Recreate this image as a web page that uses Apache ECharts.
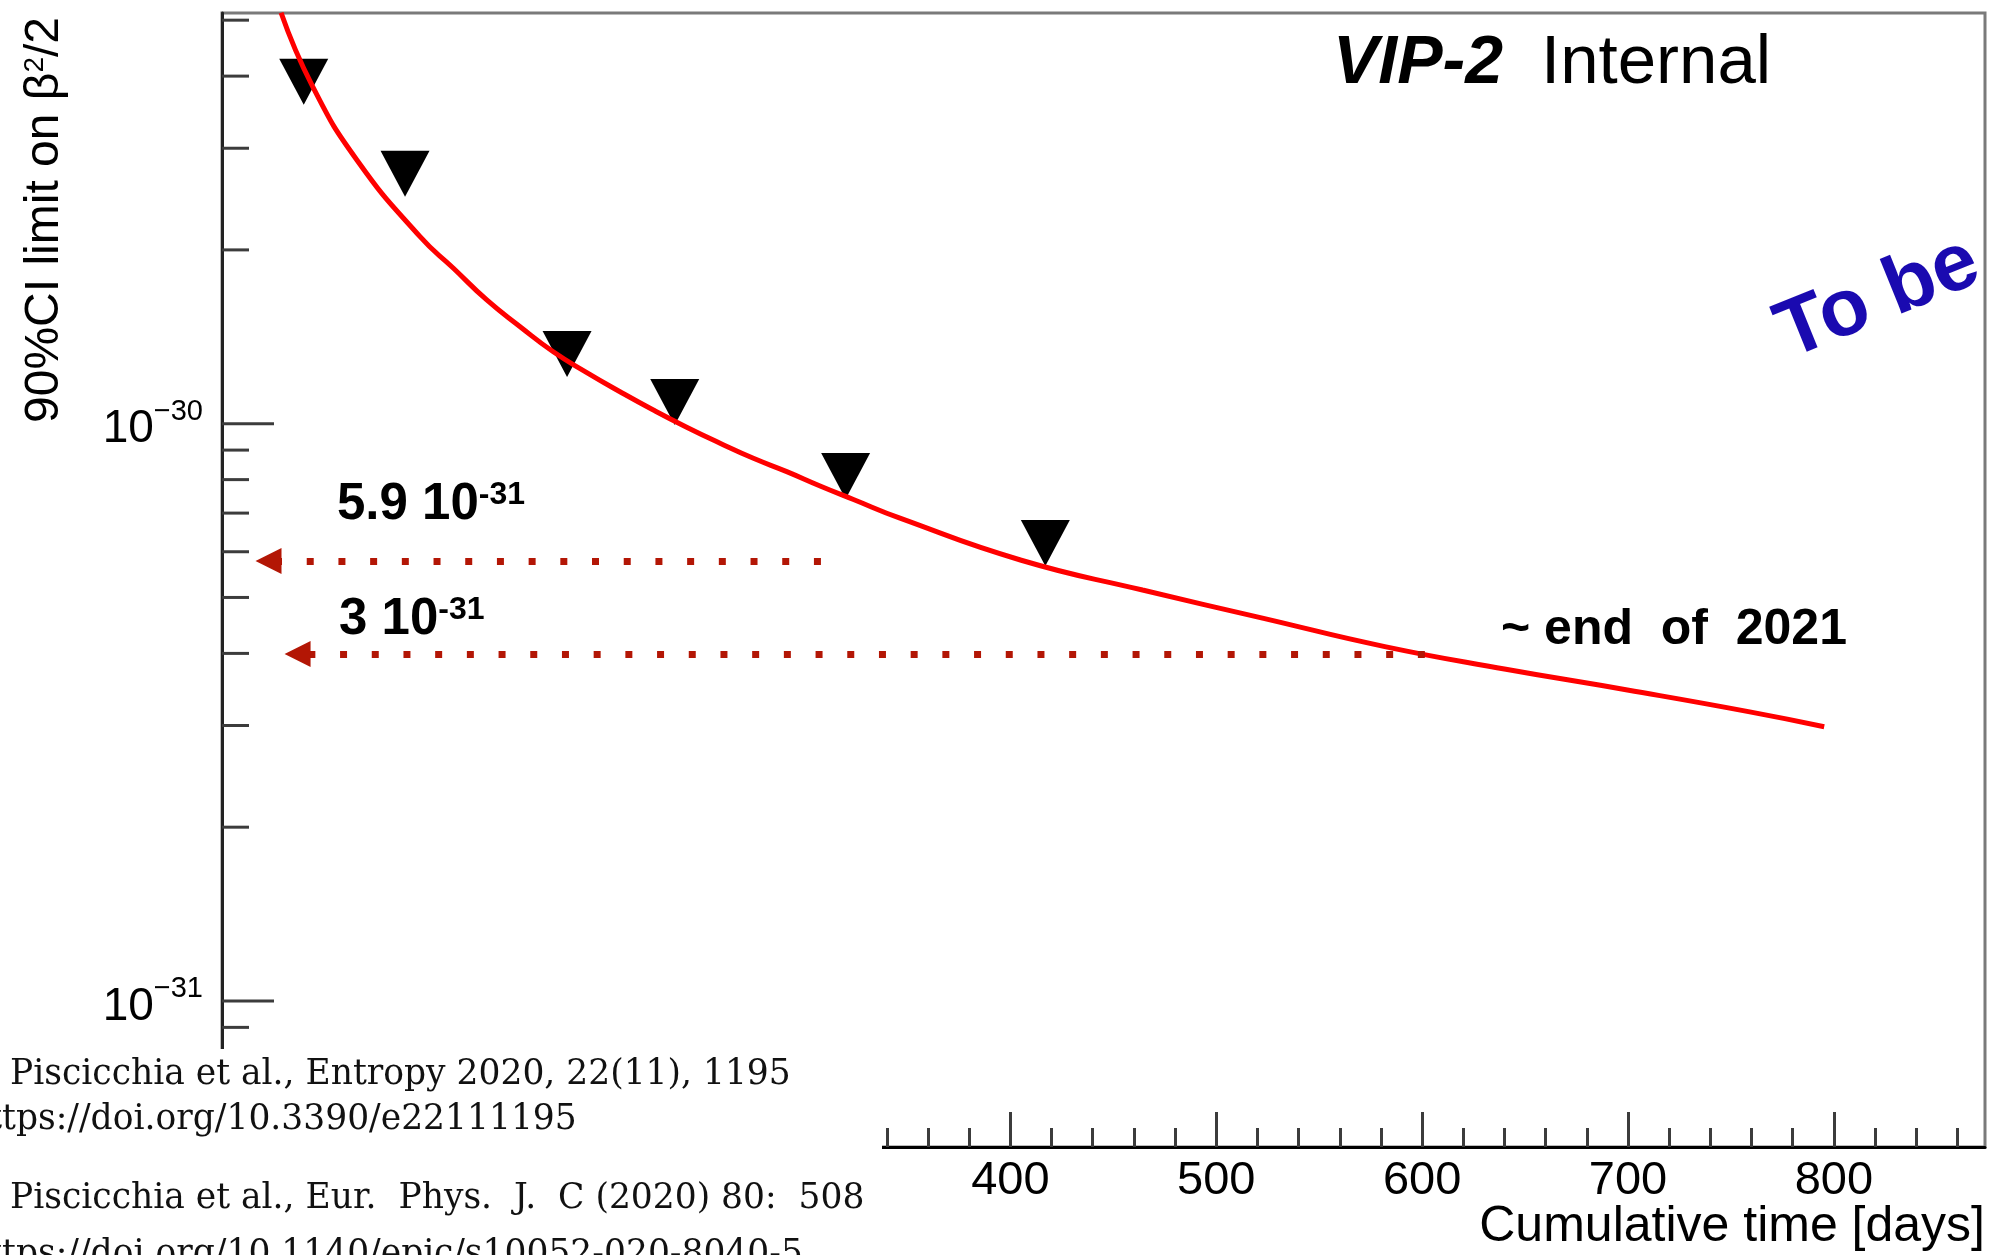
<!DOCTYPE html>
<html><head><meta charset="utf-8">
<script src="https://cdn.jsdelivr.net/npm/echarts@6/dist/echarts.min.js"></script>
<style>html,body{margin:0;padding:0;background:#fff}#c{width:1993px;height:1255px}</style>
</head><body><div id="c"></div>
<script>
// ---- data ----
const curveDays   = [45.8, 61.1, 82.7, 113.3, 129.5, 145.7, 161.9, 178.0, 194.3, 210.4, 226.6, 242.8, 259.0, 275.2, 291.4, 307.6, 323.8, 346.4, 405.3, 464.2, 523.0, 581.9, 640.7, 699.7, 758.5, 795.3];
const curveLimits = [5.15e-30, 3.84e-30, 2.86e-30, 2.108e-30, 1.859e-30, 1.638e-30, 1.472e-30, 1.332e-30, 1.226e-30, 1.136e-30, 1.056e-30, 9.86e-31, 9.25e-31, 8.71e-31, 8.26e-31, 7.80e-31, 7.39e-31, 6.86e-31, 5.80e-31, 5.15e-31, 4.60e-31, 4.11e-31, 3.755e-31, 3.457e-31, 3.171e-31, 2.986e-31];
const pointDays   = [56.8, 106.0, 184.7, 237.0, 320.0, 417.0];
const pointLimits = [3.91e-30, 2.71e-30, 1.32e-30, 1.09e-30, 8.12e-31, 6.21e-31];
const arrowLevels    = [5.78e-31, 3.99e-31];
const arrowTipDays   = [39.7, 53.8];
const arrowStartDays = [311.4, 603.8];
const arrowLabels = [['5.9 10', '-31'], ['3 10', '-31']];
const xTickLabels = [400, 500, 600, 700, 800];
const xMajorTicks = [100, 200, 300, 400, 500, 600, 700, 800];
const xMinorTicks = [20,40,60,80,120,140,160,180,220,240,260,280,320,340,360,380,420,440,460,480,520,540,560,580,620,640,660,680,720,740,760,780,820,840,860];
const yMajorTicks = [1e-31, 1e-30];
const yMinorTicks = [6e-32,7e-32,8e-32,9e-32,2e-31,3e-31,4e-31,5e-31,6e-31,7e-31,8e-31,9e-31,2e-30,3e-30,4e-30,5e-30];
const xRange = [17.1, 873.4];
const yRange = [5.585e-32, 5.145e-30];
const citations = [
  'Piscicchia et al., Entropy 2020, 22(11), 1195',
  'https://doi.org/10.3390/e22111195',
  'Piscicchia et al., Eur.  Phys.  J.  C (2020) 80:  508',
  'https://doi.org/10.1140/epjc/s10052-020-8040-5'
];

const SANS = 'Liberation Sans, Arial, Helvetica, sans-serif';
const SERIF = 'DejaVu Serif, serif';
const ARROW = '#b31605';
const TICK = '#3c3c3c';

const chart = echarts.init(document.getElementById('c'), null, {renderer: 'canvas'});

const dashOffsets = [25.2, 20.9];

function yTickSeries(values, len) {
  return {
    type: 'custom', xAxisIndex: 0, yAxisIndex: 0, z: 5, clip: false, silent: true,
    data: values.map(v => [xRange[0], v]),
    renderItem: function (params, api) {
      const p = api.coord([api.value(0), api.value(1)]);
      return {type: 'line', shape: {x1: p[0], y1: p[1], x2: p[0] + len, y2: p[1]},
              style: {stroke: TICK, lineWidth: 3}};
    }
  };
}

const option = {
  animation: false,
  backgroundColor: '#ffffff',
  grid: {left: 222, right: 8, top: 13, bottom: 108, containLabel: false, outerBoundsMode: 'none',
         show: true, borderColor: '#7a7a7a', borderWidth: 3, backgroundColor: 'transparent'},
  xAxis: [
    {type: 'value', min: xRange[0], max: xRange[1], position: 'bottom',
     axisLine: {show: true, onZero: false, lineStyle: {color: '#000', width: 3}},
     axisTick: {show: true, inside: true, length: 35, customValues: xMajorTicks, lineStyle: {color: TICK, width: 3}},
     axisLabel: {show: true, customValues: xTickLabels, margin: 11, fontSize: 47, fontFamily: SANS, color: '#000'},
     splitLine: {show: false}},
    {type: 'value', min: xRange[0], max: xRange[1], position: 'bottom',
     axisLine: {show: false},
     axisTick: {show: true, inside: true, length: 19, customValues: xMinorTicks, lineStyle: {color: TICK, width: 3}},
     axisLabel: {show: false}, splitLine: {show: false}}
  ],
  yAxis: [
    {type: 'log', logBase: 10, min: yRange[0], max: yRange[1], position: 'left',
     axisLine: {show: true, onZero: false, lineStyle: {color: '#222', width: 3}},
     axisTick: {show: false},
     axisLabel: {show: true, margin: 19, padding: [12, 0, 0, 0], showMinLabel: true, showMaxLabel: true, hideOverlap: false,
       formatter: function (v) {
         const e = Math.log10(v);
         const r = Math.round(e);
         if (Math.abs(e - r) > 1e-6 || yMajorTicks.every(t => Math.abs(Math.log10(t) - r) > 1e-6)) return '';
         return '{b|10}{s|\u2212' + Math.abs(r) + '}';
       },
       rich: {b: {fontSize: 46, lineHeight: 64, fontFamily: SANS, color: '#000'},
              s: {fontSize: 29, verticalAlign: 'top', fontFamily: SANS, color: '#000'}}},
     splitLine: {show: false}}
  ],
  series: [
    {type: 'scatter', name: 'limits', xAxisIndex: 0, yAxisIndex: 0, z: 2,
     data: pointDays.map((d, i) => [d, pointLimits[i]]),
     symbol: 'triangle', symbolRotate: 180, symbolSize: [49, 46],
     itemStyle: {color: '#000', opacity: 1}},
    {type: 'line', name: 'fit', xAxisIndex: 0, yAxisIndex: 0, z: 3,
     data: curveDays.map((d, i) => [d, curveLimits[i]]),
     smooth: 0.5, symbol: 'none', showSymbol: false, clip: true,
     lineStyle: {color: '#ff0000', width: 5}},
    {type: 'lines', name: 'arrows', coordinateSystem: 'cartesian2d', xAxisIndex: 0, yAxisIndex: 0, z: 4,
     symbol: ['triangle', 'none'], symbolSize: 26,
     data: arrowLevels.map((v, i) => ({
       coords: [[arrowTipDays[i], v], [arrowStartDays[i], v]],
       lineStyle: {color: ARROW, width: 7, type: [7, 24.7], dashOffset: dashOffsets[i], cap: 'butt'}
     })),
     lineStyle: {color: ARROW, width: 7, opacity: 1},
     itemStyle: {color: ARROW}},
    yTickSeries(yMajorTicks, 52),
    yTickSeries(yMinorTicks, 27)
  ],
  graphic: [
    // box with references covering the lower-left corner
    {type: 'rect', z: 100, shape: {x: 0, y: 1049, width: 882, height: 206}, style: {fill: '#ffffff'}},
    {type: 'text', z: 101, x: 10, y: 1058, style: {text: citations[0], fontSize: 34.5, fontFamily: SERIF, fill: '#111', textAlign: 'left', textVerticalAlign: 'top'}},
    {type: 'text', z: 101, x: -34, y: 1103, style: {text: citations[1], fontSize: 34.5, fontFamily: SERIF, fill: '#111', textAlign: 'left', textVerticalAlign: 'top'}},
    {type: 'text', z: 101, x: 10, y: 1182, style: {text: citations[2], fontSize: 34.5, fontFamily: SERIF, fill: '#111', textAlign: 'left', textVerticalAlign: 'top'}},
    {type: 'text', z: 101, x: -34, y: 1238, style: {text: citations[3], fontSize: 34.5, fontFamily: SERIF, fill: '#111', textAlign: 'left', textVerticalAlign: 'top'}},
    // x axis title
    {type: 'text', z: 50, x: 1985, y: 1202, style: {text: 'Cumulative time [days]', fontSize: 50, fontFamily: SANS, fill: '#000', textAlign: 'right', textVerticalAlign: 'top'}},
    // y axis title
    {type: 'text', z: 50, x: 45, y: 17, rotation: Math.PI / 2,
     style: {text: '90%CI limit on \u03b2{s|2}/2', fontSize: 48, fontFamily: SANS, fill: '#000', textAlign: 'right', textVerticalAlign: 'middle',
             rich: {s: {fontSize: 28, fontFamily: SANS, verticalAlign: 'top', fill: '#000'}}}},
    // VIP-2 Internal
    {type: 'text', z: 50, x: 1333, y: 30, style: {text: 'VIP-2', fontSize: 68, fontWeight: 'bold', fontStyle: 'italic', fontFamily: SANS, fill: '#000', textAlign: 'left', textVerticalAlign: 'top'}},
    {type: 'text', z: 50, x: 1541, y: 29, style: {text: 'Internal', fontSize: 69, fontFamily: SANS, fill: '#000', textAlign: 'left', textVerticalAlign: 'top'}},
    // To be ...
    {type: 'text', z: 50, x: 1781, y: 338, rotation: 22 * Math.PI / 180,
     style: {text: 'To be', fontSize: 81, fontWeight: 'bold', fontFamily: SANS, fill: '#1a0ab0', textAlign: 'left', textVerticalAlign: 'middle'}},
    // annotations
    {type: 'text', z: 50, x: 337, y: 479,
     style: {text: '{b|' + arrowLabels[0][0] + '}{s|' + arrowLabels[0][1] + '}', textAlign: 'left', textVerticalAlign: 'top',
             rich: {b: {fontSize: 51, fontWeight: 'bold', fontFamily: SANS, fill: '#000'}, s: {fontSize: 32, fontWeight: 'bold', fontFamily: SANS, verticalAlign: 'top', fill: '#000'}}}},
    {type: 'text', z: 50, x: 339, y: 594,
     style: {text: '{b|' + arrowLabels[1][0] + '}{s|' + arrowLabels[1][1] + '}', textAlign: 'left', textVerticalAlign: 'top',
             rich: {b: {fontSize: 51, fontWeight: 'bold', fontFamily: SANS, fill: '#000'}, s: {fontSize: 32, fontWeight: 'bold', fontFamily: SANS, verticalAlign: 'top', fill: '#000'}}}},
    {type: 'text', z: 50, x: 1501, y: 605,
     style: {text: '~ end  of  2021', fontSize: 50, fontWeight: 'bold', fontFamily: SANS, fill: '#000', textAlign: 'left', textVerticalAlign: 'top'}}
  ]
};
chart.setOption(option);
</script>
</body></html>
